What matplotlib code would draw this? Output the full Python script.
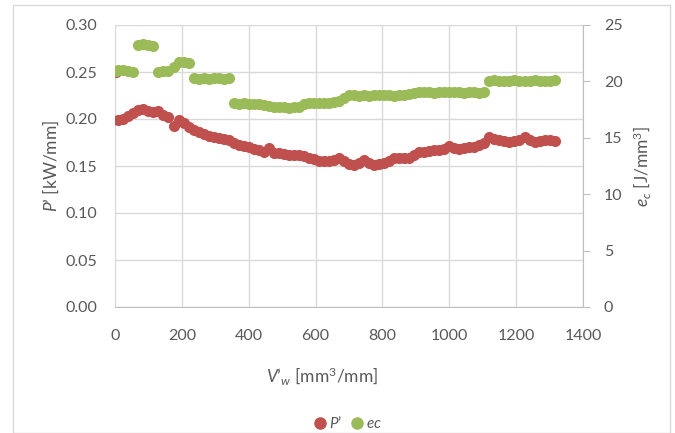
import numpy as np
import matplotlib
matplotlib.use("Agg")
import matplotlib.pyplot as plt
from matplotlib.lines import Line2D
from matplotlib.patches import Rectangle

plt.rcParams['font.family'] = ['Lato', 'DejaVu Sans']
plt.rcParams['mathtext.fontset'] = 'custom'
plt.rcParams['mathtext.rm'] = 'Lato'
plt.rcParams['mathtext.it'] = 'Lato:italic'

# V'w [mm3/mm]
vw = [3, 10, 25, 40, 55, 70, 85, 100, 115, 130, 145, 160, 175, 190, 205, 220,
      235, 250, 265, 280, 295, 310, 325, 340, 355, 370, 385, 400, 415, 430,
      445, 460, 475, 490, 505, 520, 535, 550, 565, 580, 595, 610, 625, 640,
      655, 670, 685, 700, 715, 730, 745, 760, 775, 790, 805, 820, 835, 850,
      865, 880, 895, 910, 925, 940, 955, 970, 985, 1000, 1015, 1030, 1045,
      1060, 1075, 1090, 1105, 1120, 1135, 1150, 1165, 1180, 1195, 1210, 1225,
      1240, 1255, 1270, 1285, 1300, 1315]

# P' [kW/mm]
p_prime = [0.250, 0.199, 0.200, 0.203, 0.206, 0.210, 0.211, 0.208, 0.207, 0.208,
           0.204, 0.202, 0.193, 0.199, 0.196, 0.191, 0.188, 0.186, 0.184, 0.182,
           0.181, 0.180, 0.179, 0.178, 0.174, 0.172, 0.171, 0.170, 0.168, 0.167,
           0.165, 0.169, 0.164, 0.164, 0.163, 0.162, 0.162, 0.162, 0.161, 0.158,
           0.157, 0.155, 0.155, 0.155, 0.156, 0.158, 0.155, 0.152, 0.151, 0.153,
           0.156, 0.153, 0.151, 0.152, 0.153, 0.155, 0.158, 0.159, 0.158, 0.159,
           0.162, 0.165, 0.165, 0.166, 0.167, 0.167, 0.168, 0.171, 0.169, 0.168,
           0.169, 0.170, 0.170, 0.172, 0.174, 0.181, 0.179, 0.178, 0.177, 0.176,
           0.177, 0.178, 0.181, 0.178, 0.176, 0.177, 0.178, 0.178, 0.177]

# ec [J/mm3]
ec = [20.9, 21.0, 21.0, 20.9, 20.8, 23.2, 23.3, 23.2, 23.1, 20.8, 20.9, 20.9,
      21.3, 21.7, 21.7, 21.6, 20.3, 20.2, 20.3, 20.2, 20.3, 20.3, 20.2, 20.3,
      18.1, 18.0, 18.1, 18.0, 18.0, 18.0, 17.9, 17.8, 17.7, 17.7, 17.7, 17.6,
      17.7, 17.7, 18.0, 18.1, 18.1, 18.1, 18.1, 18.1, 18.2, 18.3, 18.5, 18.8,
      18.8, 18.7, 18.8, 18.7, 18.8, 18.8, 18.8, 18.8, 18.7, 18.8, 18.8, 18.9,
      19.0, 19.1, 19.1, 19.1, 19.0, 19.1, 19.1, 19.1, 19.1, 19.1, 19.0, 19.1,
      19.1, 19.0, 19.1, 20.0, 20.1, 20.0, 20.0, 20.0, 20.1, 20.0, 20.0, 20.0,
      20.1, 20.0, 20.0, 20.0, 20.1]

x_ticks = [0, 200, 400, 600, 800, 1000, 1200, 1400]
left_ticks = [0.00, 0.05, 0.10, 0.15, 0.20, 0.25, 0.30]
right_ticks = [0, 5, 10, 15, 20, 25]

red = '#C0504D'
green = '#9BBB59'
txt = '#595959'
grid = '#D9D9D9'

fig = plt.figure(figsize=(6.75, 4.33), dpi=100)
fig.patches.append(Rectangle((13 / 675, 0), 657 / 675, 1 - 5 / 433,
                             transform=fig.transFigure, fill=False,
                             edgecolor=grid, linewidth=1))
ax = fig.add_axes([115 / 675, 1 - 307 / 433, 468 / 675, 282 / 433])
ax2 = ax.twinx()

ax.plot(vw, p_prime, 'o', color=red, markersize=8, markeredgewidth=0, zorder=3)
ax2.plot(vw, ec, 'o', color=green, markersize=8, markeredgewidth=0, zorder=3)

ax.set_xlim(0, 1400)
ax.set_ylim(0, 0.30)
ax2.set_ylim(0, 25)
ax.set_xticks(x_ticks)
ax.set_yticks(left_ticks)
ax.set_yticklabels([f"{t:.2f}" for t in left_ticks])
ax2.set_yticks(right_ticks)

ax.grid(True, color=grid, linewidth=1)
ax.set_axisbelow(True)
for s in ['top', 'left']:
    ax.spines[s].set_visible(False)
ax.spines['bottom'].set_color('#BFBFBF')
ax.spines['right'].set_visible(False)
for s in ['top', 'left', 'bottom']:
    ax2.spines[s].set_visible(False)
ax2.spines['right'].set_color('#BFBFBF')

ax.tick_params(axis='both', length=0, labelsize=11.5, labelcolor=txt)
ax.tick_params(axis='y', pad=13)
ax.tick_params(axis='x', pad=16)
ax2.tick_params(axis='y', length=5, color='#BFBFBF', labelsize=11.5,
                labelcolor=txt, pad=10)

ax.set_ylabel("$P$’ [kW/mm]", fontsize=12.5, color=txt, labelpad=3)
ax2.set_ylabel("$e_c$ [J/mm$^3$]", fontsize=12.5, color=txt, labelpad=6)
fig.text(322 / 675, 1 - 376 / 433, "$V$’$_w$ [mm$^3$/mm]", fontsize=12.5,
         color=txt, ha='center', va='center')

handles = [Line2D([], [], marker='o', linestyle='', color=red, markersize=8),
           Line2D([], [], marker='o', linestyle='', color=green, markersize=8)]
leg = fig.legend(handles, ["$P$’", "$ec$"], loc='center',
                 bbox_to_anchor=(347 / 675, 1 - 423 / 433), ncol=2,
                 frameon=False, fontsize=11, handletextpad=0.1,
                 columnspacing=0.5, handlelength=1)
for t in leg.get_texts():
    t.set_color(txt)

fig.savefig("out.png", dpi=100)
